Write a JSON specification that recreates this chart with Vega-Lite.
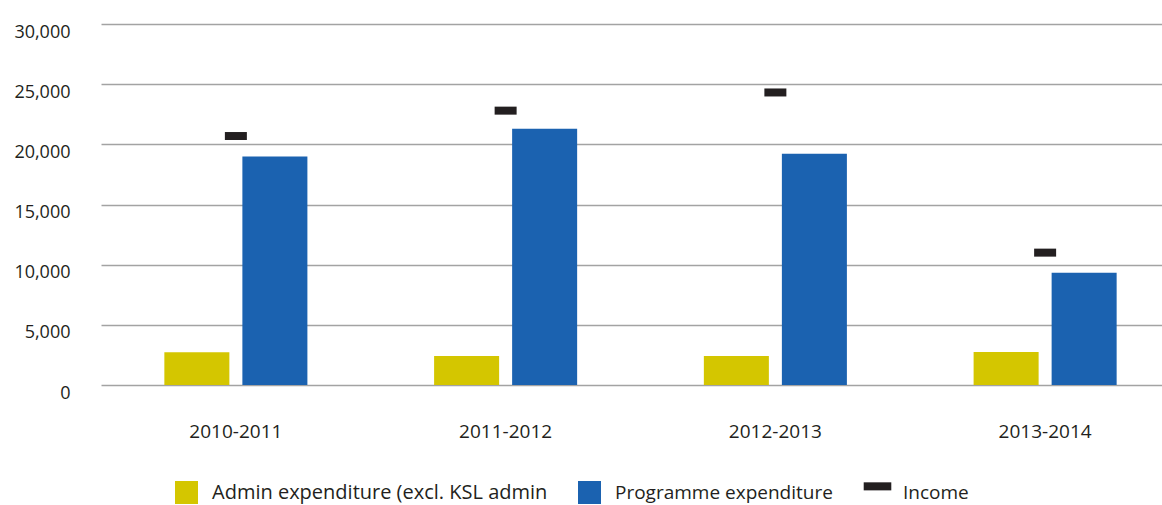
{
  "$schema": "https://vega.github.io/schema/vega-lite/v6.json",
  "autosize": {"type": "none"},
  "padding": {"left": 101, "top": 24, "right": 0, "bottom": 120},
  "width": 1061,
  "height": 361,
  "background": "white",
  "config": {
    "view": {"stroke": null},
    "font": "Open Sans",
    "axis": {"labelFont": "Open Sans", "labelColor": "#231f20", "labelFontSize": 18}
  },
  "data": {
    "values": [
      {"year": "2010-2011", "series": "Admin expenditure (excl. KSL admin", "value": 2730},
      {"year": "2010-2011", "series": "Programme expenditure", "value": 18980},
      {"year": "2010-2011", "series": "Income", "value": 20690},
      {"year": "2011-2012", "series": "Admin expenditure (excl. KSL admin", "value": 2400},
      {"year": "2011-2012", "series": "Programme expenditure", "value": 21300},
      {"year": "2011-2012", "series": "Income", "value": 22800},
      {"year": "2012-2013", "series": "Admin expenditure (excl. KSL admin", "value": 2400},
      {"year": "2012-2013", "series": "Programme expenditure", "value": 19220},
      {"year": "2012-2013", "series": "Income", "value": 24310},
      {"year": "2013-2014", "series": "Admin expenditure (excl. KSL admin", "value": 2740},
      {"year": "2013-2014", "series": "Programme expenditure", "value": 9320},
      {"year": "2013-2014", "series": "Income", "value": 11000}
    ]
  },
  "encoding": {
    "x": {
      "field": "year", "type": "nominal", "sort": null,
      "scale": {"range": [0, 1079], "paddingInner": 0, "paddingOuter": 0},
      "axis": {"title": null, "labelAngle": 0, "ticks": false, "domain": false, "labelPadding": 37, "labelFontSize": 19, "grid": false}
    },
    "y": {
      "field": "value", "type": "quantitative",
      "scale": {"domain": [0, 30000], "nice": false},
      "axis": {
        "title": null, "values": [0, 5000, 10000, 15000, 20000, 25000, 30000],
        "format": ",d", "ticks": false, "domain": false, "labelPadding": 31, "labelOffset": 8,
        "grid": true, "gridColor": "#a3a3a3", "gridWidth": 1.5
      }
    }
  },
  "layer": [
    {
      "transform": [{"filter": "datum.series !== 'Income'"}],
      "mark": {"type": "bar"},
      "encoding": {
        "xOffset": {
          "field": "series", "type": "nominal",
          "sort": ["Admin expenditure (excl. KSL admin", "Programme expenditure"],
          "scale": {"paddingInner": 0.1667, "paddingOuter": 0.812}
        },
        "color": {
          "field": "series", "type": "nominal",
          "scale": {
            "domain": ["Admin expenditure (excl. KSL admin", "Programme expenditure", "Income"],
            "range": ["#d4c600", "#1b62b0", "#231f20"]
          },
          "legend": {
            "title": null,
            "orient": "none",
            "legendX": 74,
            "legendY": 457,
            "direction": "horizontal",
            "padding": 0,
            "symbolSize": 529,
            "symbolStrokeWidth": 0,
            "labelFont": "Open Sans",
            "labelFontSize": 20,
            "labelColor": "#231f20",
            "labelOffset": 14,
            "labelLimit": 0,
            "columnPadding": 30,
            "encode": {
              "symbols": {
                "update": {
                  "shape": {"signal": "datum.value === 'Income' ? 'M-1.2,-0.95h2.4v0.7h-2.4z' : 'square'"},
                  "fillOpacity": {"value": 1}
                }
              },
              "labels": {
                "update": {
                  "fontSize": {"signal": "datum.value === 'Admin expenditure (excl. KSL admin' ? 20 : 19"}
                }
              }
            }
          }
        }
      }
    },
    {
      "transform": [{"filter": "datum.series === 'Income'"}],
      "mark": {"type": "tick", "color": "#231f20", "opacity": 1, "size": 22, "thickness": 8, "orient": "horizontal"},
      "encoding": {}
    }
  ]
}
